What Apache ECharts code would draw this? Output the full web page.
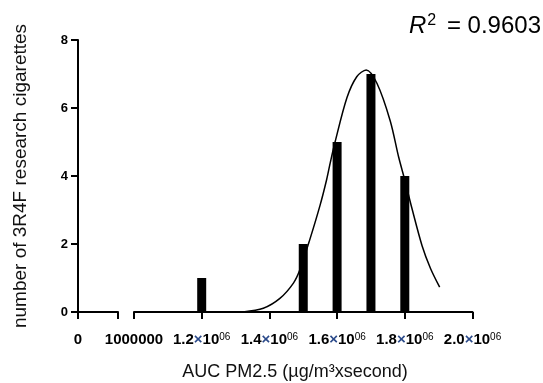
<!DOCTYPE html>
<html>
<head>
<meta charset="utf-8">
<script src="https://cdn.jsdelivr.net/npm/echarts@6/dist/echarts.min.js"></script>
<style>
html,body{margin:0;padding:0;background:#fff;}
#c{width:543px;height:383px;}
</style>
</head>
<body>
<div id="c"></div>
<script>
// ---- data ----
var yTicks = [0, 2, 4, 6, 8];
var xTicksLeft = [0, 1000000];
var xLabelsLeft = [0];
var xTicksRight = [1000000, 1200000, 1400000, 1600000, 1800000, 2000000];
var xLabelsRight = [1000000, 1200000, 1400000, 1600000, 1800000, 2000000];
var barX = [1200000, 1500000, 1600000, 1700000, 1800000];
var barY = [1, 2, 5, 7, 4];
var curveX = [1322000, 1382000, 1431000, 1471000, 1490000, 1520000, 1550000, 1569000, 1580000, 1594000, 1629000, 1658000, 1686000, 1718000, 1757000, 1782000, 1800000, 1821000, 1851000, 1876000, 1903000];
var curveY = [0.0, 0.11, 0.40, 0.85, 1.24, 2.15, 3.15, 3.89, 4.40, 5.0, 6.30, 6.92, 7.12, 6.72, 5.62, 4.55, 3.88, 3.05, 1.95, 1.28, 0.73];
var r2Text = '0.9603';
var xTitle = 'AUC PM2.5 (µg/m³xsecond)';
var yTitle = 'number of 3R4F research cigarettes';

var chart = echarts.init(document.getElementById('c'), null, {renderer: 'canvas'});
var axisLineStyle = {color: '#000', width: 2};
var tickStyle = {show: true, length: 7, lineStyle: {color: '#000', width: 2}};
var font = 'Liberation Sans, Arial, sans-serif';

var option = {
  animation: false,
  backgroundColor: '#fff',
  grid: [
    {left: 78, top: 40, width: 40, bottom: 71, containLabel: false},
    {left: 134, top: 40, right: 70.5, bottom: 71, containLabel: false}
  ],
  xAxis: [
    {
      gridIndex: 0, type: 'value', min: 0, max: 1000000, interval: 1000000,
      axisLine: {show: true, lineStyle: axisLineStyle},
      axisTick: Object.assign({customValues: xTicksLeft}, tickStyle),
      splitLine: {show: false},
      axisLabel: {
        customValues: xLabelsLeft, margin: 20, color: '#000', hideOverlap: false,
        fontFamily: font, fontWeight: 'bold', fontSize: 15
      }
    },
    {
      gridIndex: 1, type: 'value', min: 1000000, max: 2000000, interval: 200000,
      axisLine: {show: true, lineStyle: axisLineStyle},
      axisTick: Object.assign({customValues: xTicksRight}, tickStyle),
      splitLine: {show: false},
      axisLabel: {
        customValues: xLabelsRight, margin: 20, color: '#000', hideOverlap: false,
        showMinLabel: true, showMaxLabel: true,
        fontFamily: font, fontWeight: 'bold', fontSize: 15,
        formatter: function (v) {
          if (v === 1000000) return '{n|1000000}';
          return '{n|' + (v / 1e6).toFixed(1) + '}{x|×}{n|10}{s|06}';
        },
        rich: {
          n: {fontFamily: font, fontWeight: 'bold', fontSize: 15, color: '#000', lineHeight: 16},
          x: {fontFamily: font, fontWeight: 'bold', fontSize: 15, color: '#2b4a8a', lineHeight: 16},
          s: {fontFamily: font, fontWeight: 'normal', fontSize: 10, color: '#000', verticalAlign: 'top', lineHeight: 16}
        }
      }
    }
  ],
  yAxis: [
    {
      gridIndex: 0, type: 'value', min: 0, max: 8, interval: 2,
      axisLine: {show: true, lineStyle: axisLineStyle},
      axisTick: tickStyle,
      splitLine: {show: false},
      axisLabel: {
        margin: 10, color: '#000', fontFamily: font, fontWeight: 'bold', fontSize: 13,
        customValues: yTicks
      }
    },
    {
      gridIndex: 1, type: 'value', min: 0, max: 8, interval: 2, show: false,
      splitLine: {show: false}
    }
  ],
  series: [
    {
      type: 'bar', xAxisIndex: 1, yAxisIndex: 1, barWidth: 9,
      itemStyle: {color: '#000'},
      data: barX.map(function (x, i) { return [x, barY[i]]; })
    },
    {
      type: 'line', xAxisIndex: 1, yAxisIndex: 1, smooth: 0.3,
      symbol: 'none', clip: false,
      lineStyle: {color: '#000', width: 1.5},
      data: curveX.map(function (x, i) { return [x, curveY[i]]; })
    }
  ],
  graphic: [
    {
      type: 'text', x: 295, y: 372,
      style: {text: xTitle, fontFamily: font, fontSize: 18, fill: '#111', align: 'center', verticalAlign: 'middle'}
    },
    {
      type: 'text', x: 21, y: 176, rotation: Math.PI / 2,
      style: {text: yTitle, fontFamily: font, fontSize: 19, fill: '#111', align: 'center', verticalAlign: 'middle'}
    },
    {
      type: 'text', x: 541, y: 26,
      style: {
        text: '{i|R}{s|2}{t| = ' + r2Text + '}', align: 'right', verticalAlign: 'middle',
        rich: {
          i: {fontFamily: font, fontStyle: 'italic', fontSize: 24, fill: '#000', lineHeight: 26},
          s: {fontFamily: font, fontSize: 16, fill: '#000', verticalAlign: 'top', lineHeight: 26, padding: [0, 2, 0, 1]},
          t: {fontFamily: font, fontSize: 24, fill: '#000', lineHeight: 26, padding: [0, 0, 0, 2]}
        }
      }
    }
  ]
};
chart.setOption(option);
</script>
</body>
</html>
